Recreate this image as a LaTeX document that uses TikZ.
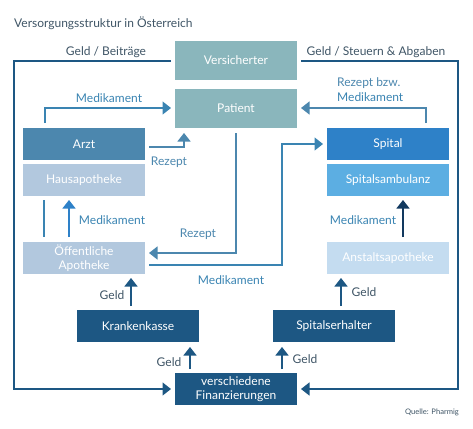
\documentclass[tikz,border=0pt]{standalone}
\usepackage{fontspec}
\setmainfont{Lato}
\usetikzlibrary{arrows.meta}
\definecolor{tealbox}{HTML}{8AB6BC}
\definecolor{arztblue}{HTML}{4C87AE}
\definecolor{paleblue}{HTML}{B2C8DE}
\definecolor{spitalblue}{HTML}{2E81C8}
\definecolor{ambublue}{HTML}{5CAEE2}
\definecolor{anstaltblue}{HTML}{C4DCF0}
\definecolor{navybox}{HTML}{1D5783}
\definecolor{darknavy}{HTML}{12395F}
\definecolor{linkblue}{HTML}{3A84B2}
\definecolor{titlegray}{HTML}{3F5566}
\begin{document}
\begin{tikzpicture}[x=1pt,y=-1pt,
  every node/.style={font=\fontsize{12pt}{14.5pt}\selectfont, align=center},
  panel/.style={minimum width=122pt, minimum height=32pt, inner sep=0pt, text=white},
  lbl/.style={text=linkblue, inner sep=0pt},
  geldlbl/.style={text=titlegray, inner sep=0pt},
  flow/.style={line width=1.3pt, draw=#1, -{Triangle[length=8.5pt,width=13pt,fill=#1]}},
  flow/.default=linkblue,
  plain/.style={line width=1.3pt, draw=#1},
  plain/.default=linkblue
]
\useasboundingbox (0,0) rectangle (473,428);
\node[anchor=west, text=titlegray, inner sep=0pt] (title) at (14,23) {Versorgungsstruktur in Österreich};
% boxes
\node[panel, fill=tealbox, minimum height=39pt] (vers) at (236,60.5) {Versicherter};
\node[panel, fill=tealbox, minimum height=39pt] (pat) at (236,108.5) {Patient};
\node[panel, fill=arztblue] (arzt) at (84,144) {Arzt};
\node[panel, fill=paleblue] (haus) at (84,180) {Hausapotheke};
\node[panel, fill=paleblue] (oeff) at (84,258) {Öffentliche\\Apotheke};
\node[panel, fill=navybox] (kk) at (138,326) {Krankenkasse};
\node[panel, fill=navybox] (fin) at (236,389) {verschiedene\\Finanzierungen};
\node[panel, fill=spitalblue] (spital) at (388,144) {Spital};
\node[panel, fill=ambublue] (ambu) at (388,180) {Spitalsambulanz};
\node[panel, fill=anstaltblue] (anst) at (388,258) {Anstaltsapotheke};
\node[panel, fill=navybox] (erh) at (334,326) {Spitalserhalter};
% free ends of the connectors
\coordinate (vl) at (171,61);
\coordinate (vr) at (301,61);
\coordinate (fl) at (171,389);
\coordinate (fr) at (301,389);
\coordinate (pl) at (171,108);
\coordinate (pr) at (301,108);
\coordinate (arztr) at (149,147);
\coordinate (patb) at (184,133);
\coordinate (arztt) at (45,123);
\coordinate (spitalt) at (426,123);
\coordinate (spitall) at (323,144);
\coordinate (oeffr1) at (149,253);
\coordinate (oeffr2) at (149,265);
\coordinate (patd) at (236,133);
\coordinate (haust1) at (44,200);
\coordinate (oefft1) at (44,237);
\coordinate (haust2) at (69,200);
\coordinate (oefft2) at (69,237);
\coordinate (ambub) at (403,200);
\coordinate (anstt) at (403,237);
\coordinate (kkt) at (131,278);
\coordinate (kkb) at (131,306);
\coordinate (erht) at (341,278);
\coordinate (erhb) at (341,306);
\coordinate (finkk) at (190,347);
\coordinate (kkb2) at (190,369);
\coordinate (erhf) at (282,347);
\coordinate (erhb2) at (282,369);
% money lines
\draw[flow=navybox] (vl) -- (14,61) -- (14,389) -- (fl);
\draw[flow=navybox] (vr) -- (458,61) -- (458,389) -- (fr);
\node[geldlbl] (geld1) at (106,52) {Geld / Beiträge};
\node[geldlbl] (geld2) at (376,52) {Geld / Steuern \& Abgaben};
% Medikament / Rezept
\draw[flow=linkblue] (arztt) -- (45,108) -- (pl);
\node[lbl] (med1) at (109,98) {Medikament};
\draw[flow=arztblue] (arztr) -- (184,147) -- (patb);
\node[lbl, text=arztblue] (rez1) at (169,162) {Rezept};
\draw[flow=arztblue] (spitalt) -- (426,108) -- (pr);
\node[lbl, text=arztblue, anchor=west] (rez2) at (337,83) {Rezept bzw.};
\node[lbl, anchor=west] (med2) at (337,97) {Medikament};
\draw[flow=arztblue] (patd) -- (236,253) -- (oeffr1);
\node[lbl, text=arztblue] (rez3) at (198,234) {Rezept};
\draw[flow=linkblue] (oeffr2) -- (282,265) -- (282,144) -- (spitall);
\node[lbl] (med3) at (231,280) {Medikament};
% pharmacies
\draw[plain=linkblue] (haust1) -- (oefft1);
\draw[flow=spitalblue] (oefft2) -- (haust2);
\node[lbl] (med4) at (112,220) {Medikament};
\draw[flow=darknavy] (anstt) -- (ambub);
\node[lbl] (med5) at (363,220) {Medikament};
% Geld
\draw[flow=navybox] (kkb) -- (kkt);
\node[geldlbl] (geld3) at (112,295) {Geld};
\draw[flow=navybox] (erhb) -- (erht);
\node[geldlbl] (geld4) at (364,292) {Geld};
\draw[flow=navybox] (kkb2) -- (finkk);
\node[geldlbl] (geld5) at (169,362) {Geld};
\draw[flow=navybox] (erhb2) -- (erhf);
\node[geldlbl] (geld6) at (305,359) {Geld};
\node[anchor=east, text=titlegray, inner sep=0pt, font=\fontsize{7.6pt}{9pt}\selectfont] (src) at (459,412) {Quelle: Pharmig};
\end{tikzpicture}
\end{document}
